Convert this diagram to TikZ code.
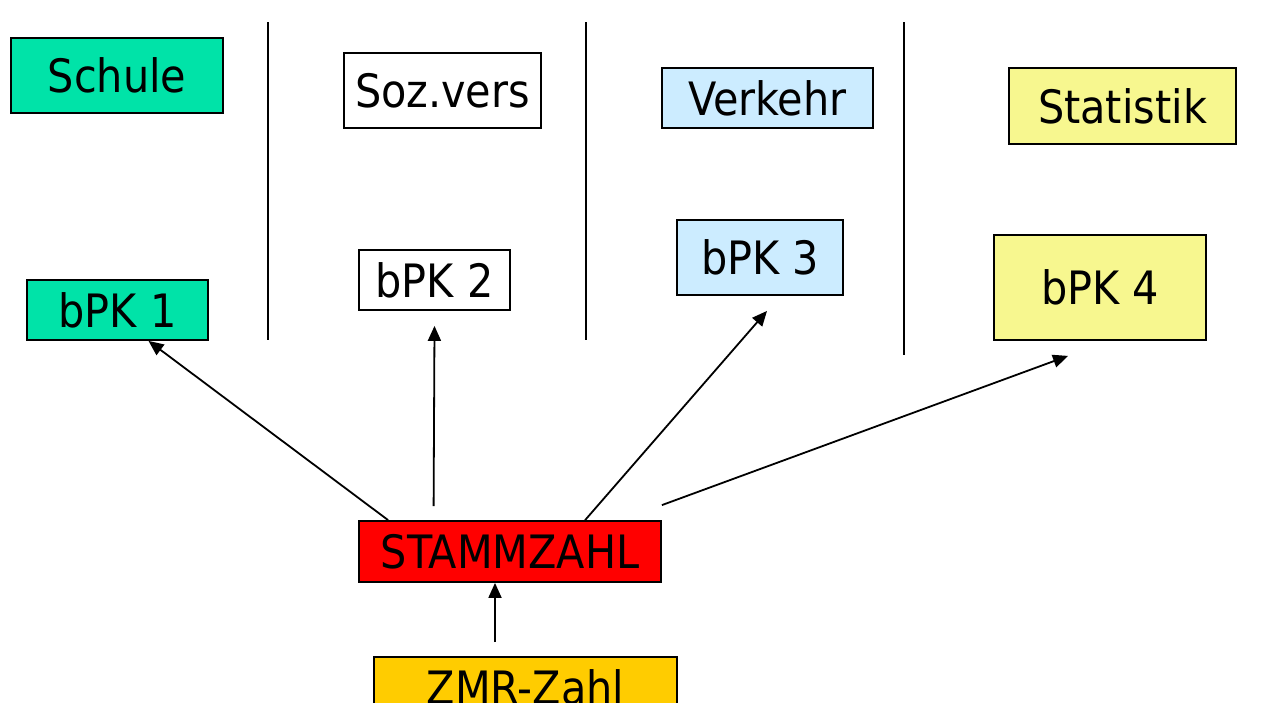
\documentclass[tikz,border=0pt]{standalone}
\usepackage{fontspec}
\setmainfont{DejaVu Sans Condensed}
\usetikzlibrary{arrows.meta}
\definecolor{gruen}{RGB}{0,227,168}
\definecolor{hellblau}{RGB}{204,236,255}
\definecolor{gelb}{RGB}{247,247,143}
\definecolor{orange}{RGB}{255,204,0}
\tikzset{
  box/.style={draw, line width=0.9pt, inner sep=0pt, font=\fontsize{23}{27}\selectfont},
  arr/.style={line width=0.9pt, -{Triangle[length=7.5pt,width=6.5pt]}},
  trenn/.style={line width=0.9pt}
}
\begin{document}
\begin{tikzpicture}[x=0.5pt,y=-0.5pt]
  \useasboundingbox (0,0) rectangle (1268,702);
        \draw[trenn] (268,22) -- (268,340);
        \draw[trenn] (586,22) -- (586,340);
        \draw[trenn] (904,22) -- (904,355);
        \node[box, fill=gruen, minimum width=106pt, minimum height=37.5pt] (schule) at (117,75.5) {Schule};
        \node[box, fill=white, minimum width=98.5pt, minimum height=37.5pt] (soz) at (442.5,90.5) {Soz.vers};
        \node[box, fill=hellblau, minimum width=105.5pt, minimum height=30pt] (verkehr) at (767.5,98) {Verkehr};
        \node[box, fill=gelb, minimum width=113.5pt, minimum height=38pt] (statistik) at (1122.5,106) {Statistik};
        \node[box, fill=gruen, minimum width=90.5pt, minimum height=30pt] (bpk1) at (117.5,310) {bPK 1};
        \node[box, fill=white, minimum width=75.5pt, minimum height=30pt] (bpk2) at (434.5,280) {bPK 2};
        \node[box, fill=hellblau, minimum width=83pt, minimum height=37.5pt] (bpk3) at (760,257.5) {bPK 3};
        \node[box, fill=gelb, minimum width=106pt, minimum height=52.5pt] (bpk4) at (1100,287.5) {bPK 4};
        \node[box, fill=red, minimum width=151pt, minimum height=30.5pt] (stamm) at (510,551.5) {STAMMZAHL};
        \node[box, fill=orange, minimum width=151.5pt, minimum height=30.5pt] (zmr) at (525.5,687.5) {ZMR-Zahl};
        \draw[arr] ([xshift=15pt]stamm.north west) -- ([xshift=15.5pt]bpk1.south);
        \draw[arr] ([xshift=37.75pt,yshift=7pt]stamm.north west) -- ([yshift=-7.5pt]bpk2.south);
        \draw[arr] ([xshift=113.5pt]stamm.north west) -- ([xshift=3.5pt,yshift=-7.5pt]bpk3.south);
        \draw[arr] ([yshift=7.5pt]stamm.north east) -- ([xshift=-16pt,yshift=-7.5pt]bpk4.south);
        \draw[arr] ([xshift=-15.25pt,yshift=7pt]zmr.north) -- ([xshift=-7.5pt]stamm.south);
      \end{tikzpicture}
\end{document}
